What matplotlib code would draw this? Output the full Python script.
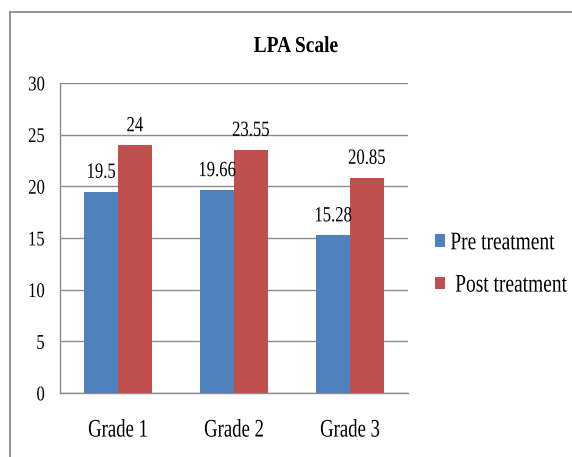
import numpy as np
import matplotlib
matplotlib.use("Agg")
import matplotlib.pyplot as plt
from matplotlib.lines import Line2D
from matplotlib.patheffects import AbstractPathEffect
from matplotlib.transforms import Affine2D

# -- chart data ---------------------------------------------------------------
grades = ["Grade 1", "Grade 2", "Grade 3"]
pre_treatment = [19.5, 19.66, 15.28]
post_treatment = [24, 23.55, 20.85]
series_names = ["Pre treatment", " Post treatment"]
y_ticks = [0, 5, 10, 15, 20, 25, 30]

BLUE = "#4F81BD"
RED = "#C0504D"
GRID = "#8C8C8C"


class VStretch(AbstractPathEffect):
    """Stretch glyphs vertically (the source picture has tall, narrow text)."""

    def __init__(self, sy, pivot=0):
        super().__init__()
        self.sy = sy
        self.pivot = pivot   # in font units, em = 100

    def draw_path(self, renderer, gc, tpath, affine, rgbFace=None):
        t = Affine2D().translate(0, -self.pivot).scale(1, self.sy).translate(0, self.pivot)
        renderer.draw_path(gc, tpath, t + affine, rgbFace)


plt.rcParams["font.family"] = ["Liberation Serif", "DejaVu Serif"]

fig = plt.figure(figsize=(5.72, 4.57), dpi=100)
ax = fig.add_axes([0.1049, 0.14, 0.6084, 0.6784])

# outer chart border (only left and top edges fall inside the crop)
fig.add_artist(Line2D([10 / 572, 10 / 572], [0, 1 - 12 / 457],
                      transform=fig.transFigure, color=GRID, lw=1.3))
fig.add_artist(Line2D([10 / 572, 1], [1 - 12 / 457, 1 - 12 / 457],
                      transform=fig.transFigure, color=GRID, lw=1.3))

x = np.arange(len(grades))
w = 0.29
b1 = ax.bar(x - w / 2, pre_treatment, w, color=BLUE, label=series_names[0], zorder=3)
b2 = ax.bar(x + w / 2, post_treatment, w, color=RED, label=series_names[1], zorder=3)

for bars, vals in ((b1, pre_treatment), (b2, post_treatment)):
    for r, v in zip(bars, vals):
        t = ax.annotate(f"{v:g}", (r.get_x() + r.get_width() / 2, r.get_height()),
                        xytext=(0, 9.9), textcoords="offset points",
                        ha="center", va="baseline", fontsize=12)
        t.set_path_effects([VStretch(1.3)])

ax.set_xlim(-0.5, len(grades) - 0.5)
ax.set_ylim(0, 30)
ax.set_yticks(y_ticks)
ax.set_xticks(x)
ax.set_xticklabels(grades)
ax.tick_params(axis="both", length=0)
ax.tick_params(axis="y", pad=11, labelsize=12)
ax.tick_params(axis="x", pad=22, labelsize=13.5)
for lbl in ax.get_yticklabels():
    lbl.set_path_effects([VStretch(1.25, 33)])
for lbl in ax.get_xticklabels():
    lbl.set_path_effects([VStretch(1.35)])
ax.yaxis.grid(True, color=GRID, lw=1, zorder=0)

for s in ("top", "right"):
    ax.spines[s].set_visible(False)
for s in ("left", "bottom"):
    ax.spines[s].set_color(GRID)
    ax.spines[s].set_linewidth(1)

title = fig.text(296 / 572, 1 - 52 / 457, "LPA Scale", ha="center", va="baseline",
                 fontsize=14, fontweight="bold")
title.set_path_effects([VStretch(1.18)])

leg = fig.legend(handles=[b1, b2], loc="center left",
                 bbox_to_anchor=(427 / 572, 1 - 264 / 457), frameon=False,
                 fontsize=14, handlelength=0.55, handleheight=0.6,
                 handletextpad=0.25, labelspacing=1.3, borderaxespad=0)
for t in leg.get_texts():
    t.set_path_effects([VStretch(1.3, 33)])

fig.savefig("out.png", dpi=100)
